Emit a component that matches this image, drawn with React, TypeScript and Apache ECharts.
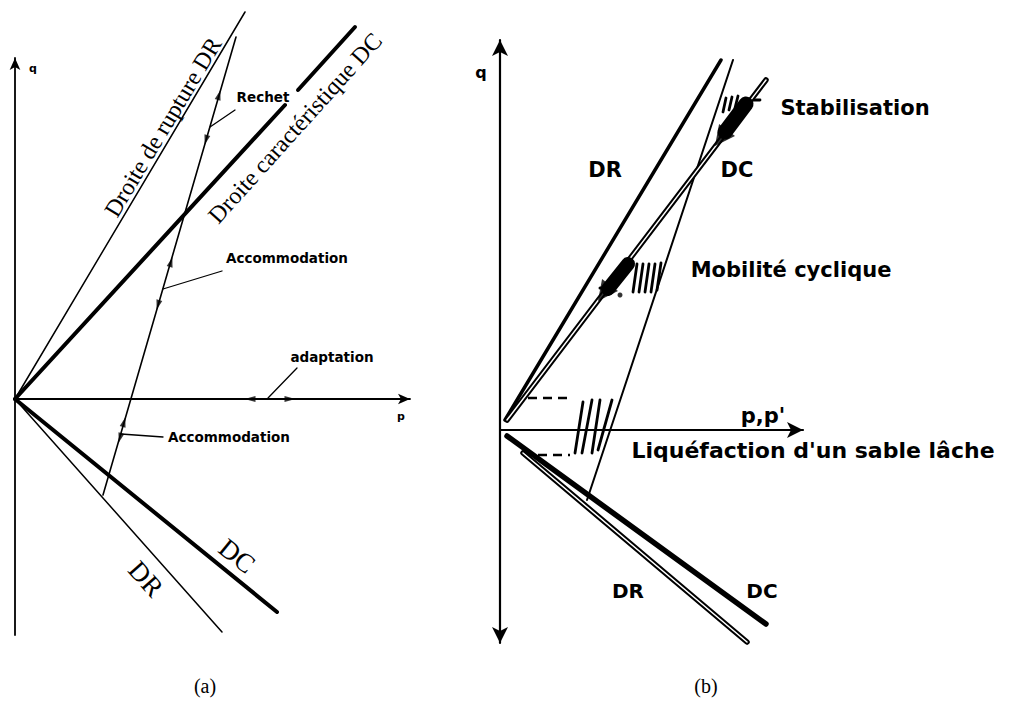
import React, { useEffect, useRef } from "react";
import * as echarts from "echarts";

// ---------- Panel (a): p to the right, q upward, origin at the axes' crossing ----------
const A_DR_UPPER = [[0, 0], [230, 387]];
const A_DC_UPPER_1 = [[0, 0], [270, 294]];
const A_DC_UPPER_2 = [[283, 309], [340, 372]];
const A_DR_LOWER = [[0, 0], [207, -233]];
const A_DC_LOWER = [[0, 0], [262, -213]];
const A_PATH = [[221, 362], [88, -96]];
const A_ARROWS_UP = [[204, 304], [156, 137], [109, -23]];
const A_ARROWS_DOWN = [[191, 259], [143, 94], [105, -39]];
const A_ADAPT_LEFT = [[235, 0]];
const A_ADAPT_RIGHT = [[275, 0]];
const A_LEADERS = [
  [[220, 289], [195, 272]],
  [[207, 128], [148, 110]],
  [[282, 31], [253, 1]],
  [[148, -38], [106, -35]],
];
const A_SMALL_TEXT = ["Rechet", "Accommodation", "adaptation", "Accommodation"];
const A_SMALL_TEXT_AT = [[248, 302], [272, 141], [317, 42], [214, -38]];
const A_AXIS_TEXT = ["q", "p"];
const A_AXIS_TEXT_AT = [[18, 331], [386, -17]];
const A_LINE_TEXT = ["Droite de rupture DR", "Droite caractéristique DC", "DC", "DR"];
const A_LINE_TEXT_AT = [[148, 272], [280, 271], [222, -157], [131, -180]];
const A_LINE_TEXT_ANGLE = [59, 48, -39, -48];

// ---------- Panel (b): p,p' to the right, q upward ----------
const B_DR_UPPER = [[5, 10], [221, 370]];
const B_DC_UPPER = [[7, 10], [266, 350]];
const B_PATH = [[233, 370], [87, -70]];
const B_DC_LOWER = [[7, -6], [266, -194]];
const B_DR_LOWER = [[23, -23], [247, -212]];
const B_DASHES = [
  [[28, 32], [72, 32]],
  [[23, -25], [70, -25]],
];
const B_LIQ_HATCH = [
  [[83, 28], [75, -23]],
  [[92, 30], [82, -23]],
  [[100, 30], [92, -23]],
  [[112, 30], [98, -20]],
];
const B_MOB_HATCH = [
  [[137, 166], [133, 138]],
  [[143, 166], [139, 138]],
  [[149, 166], [145, 138]],
  [[155, 166], [151, 138]],
  [[161, 167], [157, 140]],
];
const B_MOB_BLOB = [[128, 166], [108, 141]];
const B_MOB_TICK = [[100, 142], [113, 142]];
const B_MOB_DOT = [[120, 135]];
const B_STAB_HATCH = [
  [[226, 332], [223, 318]],
  [[232, 333], [229, 320]],
  [[238, 334], [235, 322]],
  [[250, 330], [260, 330]],
];
const B_STAB_BLOB = [[246, 326], [225, 298]];
const B_BLOB_ARROWS = [[221, 292], [104, 137]];
const B_TEXT = ["q", "DR", "DC", "Stabilisation", "Mobilité cyclique", "p,p'", "Liquéfaction d'un sable lâche", "DR", "DC"];
const B_TEXT_AT = [[-19, 358], [105, 260], [237, 260], [355, 322], [291, 160], [263, 14], [313, -20], [128, -161], [262, -161]];

const SANS = "'DejaVu Sans', sans-serif";
const SERIF = "'Liberation Serif', 'Times New Roman', serif";

function seg(pts: number[][], gi: number, width: number, extra: any = {}) {
  return {
    type: "line",
    xAxisIndex: gi,
    yAxisIndex: gi,
    data: pts,
    symbol: "none",
    clip: false,
    silent: true,
    z: extra.z ?? 3,
    lineStyle: { color: extra.color ?? "#000", width, type: extra.type ?? "solid", cap: extra.cap ?? "round" },
  };
}

function texts(names: string[], at: number[][], gi: number, style: any, angles?: number[]) {
  return {
    type: "scatter",
    xAxisIndex: gi,
    yAxisIndex: gi,
    clip: false,
    silent: true,
    symbolSize: 1,
    z: 6,
    itemStyle: { color: "rgba(0,0,0,0)" },
    data: names.map((n, i) => ({
      value: at[i],
      label: {
        show: true,
        position: "inside",
        formatter: n,
        rotate: angles ? angles[i] : 0,
        align: "center",
        verticalAlign: "middle",
        color: "#000",
        textBorderWidth: 0,
        opacity: 1,
        ...style,
      },
    })),
  };
}

function arrows(pts: number[][], gi: number, rot: number, size: number[]) {
  return {
    type: "scatter",
    xAxisIndex: gi,
    yAxisIndex: gi,
    clip: false,
    silent: true,
    symbol: "triangle",
    symbolSize: size,
    z: 5,
    itemStyle: { color: "#000" },
    data: pts.map((p) => ({ value: p, symbolRotate: rot })),
  };
}

function axisPair(gi: number, xMax: number, yMin: number, yMax: number, ySym: string[], w: number, arrow: number[]) {
  const line = { color: "#000", width: w };
  return {
    x: {
      type: "value",
      gridIndex: gi,
      min: 0,
      max: xMax,
      axisLine: { show: true, onZero: true, symbol: ["none", "arrow"], symbolSize: arrow, lineStyle: line },
      axisTick: { show: false },
      axisLabel: { show: false },
      splitLine: { show: false },
    },
    y: {
      type: "value",
      gridIndex: gi,
      min: yMin,
      max: yMax,
      axisLine: { show: true, onZero: true, symbol: ySym, symbolSize: arrow, lineStyle: line },
      axisTick: { show: false },
      axisLabel: { show: false },
      splitLine: { show: false },
    },
  };
}

export default function App() {
  const ref = useRef<HTMLDivElement>(null);
  useEffect(() => {
    if (!ref.current) return;
    const chart = echarts.init(ref.current, undefined, { renderer: "svg" });
    const a = axisPair(0, 395, -236, 341, ["none", "arrow"], 1.8, [8, 12]);
    const b = axisPair(1, 303, -213, 390, ["arrow", "arrow"], 2.2, [12, 16]);
    const smallA = { fontFamily: SANS, fontWeight: "bold", fontSize: 13.5 };
    const series: any[] = [
      // panel (a)
      seg(A_DR_UPPER, 0, 1.5),
      seg(A_DC_UPPER_1, 0, 4),
      seg(A_DC_UPPER_2, 0, 4),
      seg(A_DR_LOWER, 0, 1.5),
      seg(A_DC_LOWER, 0, 4),
      seg(A_PATH, 0, 1.6),
      ...A_LEADERS.map((l) => seg(l, 0, 1.3)),
      arrows(A_ARROWS_UP, 0, -16, [6, 10]),
      arrows(A_ARROWS_DOWN, 0, 164, [6, 10]),
      arrows(A_ADAPT_LEFT, 0, 90, [6, 11]),
      arrows(A_ADAPT_RIGHT, 0, -90, [6, 11]),
      texts(A_SMALL_TEXT, A_SMALL_TEXT_AT, 0, smallA),
      texts(A_AXIS_TEXT, A_AXIS_TEXT_AT, 0, { fontFamily: SANS, fontWeight: "bold", fontSize: 11 }),
      texts(A_LINE_TEXT.slice(0, 2), A_LINE_TEXT_AT.slice(0, 2), 0, { fontFamily: SERIF, fontSize: 24 }, A_LINE_TEXT_ANGLE.slice(0, 2)),
      texts(A_LINE_TEXT.slice(2), A_LINE_TEXT_AT.slice(2), 0, { fontFamily: SERIF, fontSize: 27 }, A_LINE_TEXT_ANGLE.slice(2)),
      // panel (b)
      seg(B_DR_UPPER, 1, 3.5),
      seg(B_DC_UPPER, 1, 5.5),
      seg(B_DC_UPPER, 1, 1.5, { color: "#fff", z: 4 }),
      seg(B_PATH, 1, 2),
      seg(B_DC_LOWER, 1, 5.5),
      seg(B_DR_LOWER, 1, 5.5),
      seg(B_DR_LOWER, 1, 1.5, { color: "#fff", z: 4 }),
      ...B_DASHES.map((l) => seg(l, 1, 2.5, { type: [9, 6], cap: "butt" })),
      ...B_LIQ_HATCH.map((l) => seg(l, 1, 2.8)),
      ...B_MOB_HATCH.map((l) => seg(l, 1, 2.8)),
      seg(B_MOB_BLOB, 1, 14, { z: 5 }),
      seg(B_MOB_TICK, 1, 3),
      ...B_STAB_HATCH.map((l) => seg(l, 1, 2.8)),
      seg(B_STAB_BLOB, 1, 15, { z: 5 }),
      arrows(B_BLOB_ARROWS, 1, 143, [20, 20]),
      {
        type: "scatter",
        xAxisIndex: 1,
        yAxisIndex: 1,
        clip: false,
        silent: true,
        symbol: "circle",
        symbolSize: 5,
        itemStyle: { color: "#000" },
        data: B_MOB_DOT,
      },
      texts(B_TEXT.slice(0, 1), B_TEXT_AT.slice(0, 1), 1, { fontFamily: SANS, fontWeight: "bold", fontSize: 16 }),
      texts(B_TEXT.slice(1, 6), B_TEXT_AT.slice(1, 6), 1, { fontFamily: SANS, fontWeight: "bold", fontSize: 21 }),
      texts(B_TEXT.slice(6, 7), B_TEXT_AT.slice(6, 7), 1, { fontFamily: SANS, fontWeight: "bold", fontSize: 22 }),
      texts(B_TEXT.slice(7), B_TEXT_AT.slice(7), 1, { fontFamily: SANS, fontWeight: "bold", fontSize: 20 }),
    ];
    chart.setOption({
      animation: false,
      backgroundColor: "#fff",
      grid: [
        { left: 15, top: 58, width: 395, height: 577 },
        { left: 500, top: 40, width: 303, height: 603 },
      ],
      xAxis: [a.x, b.x],
      yAxis: [a.y, b.y],
      series,
      graphic: [
        { type: "text", x: 205, y: 686, style: { text: "(a)", font: `20px ${SERIF}`, fill: "#000", textAlign: "center", textVerticalAlign: "middle" } },
        { type: "text", x: 706, y: 686, style: { text: "(b)", font: `20px ${SERIF}`, fill: "#000", textAlign: "center", textVerticalAlign: "middle" } },
      ],
    });
    return () => chart.dispose();
  }, []);
  return <div ref={ref} style={{ position: "absolute", left: 0, top: 0, width: 1018, height: 709 }} />;
}
